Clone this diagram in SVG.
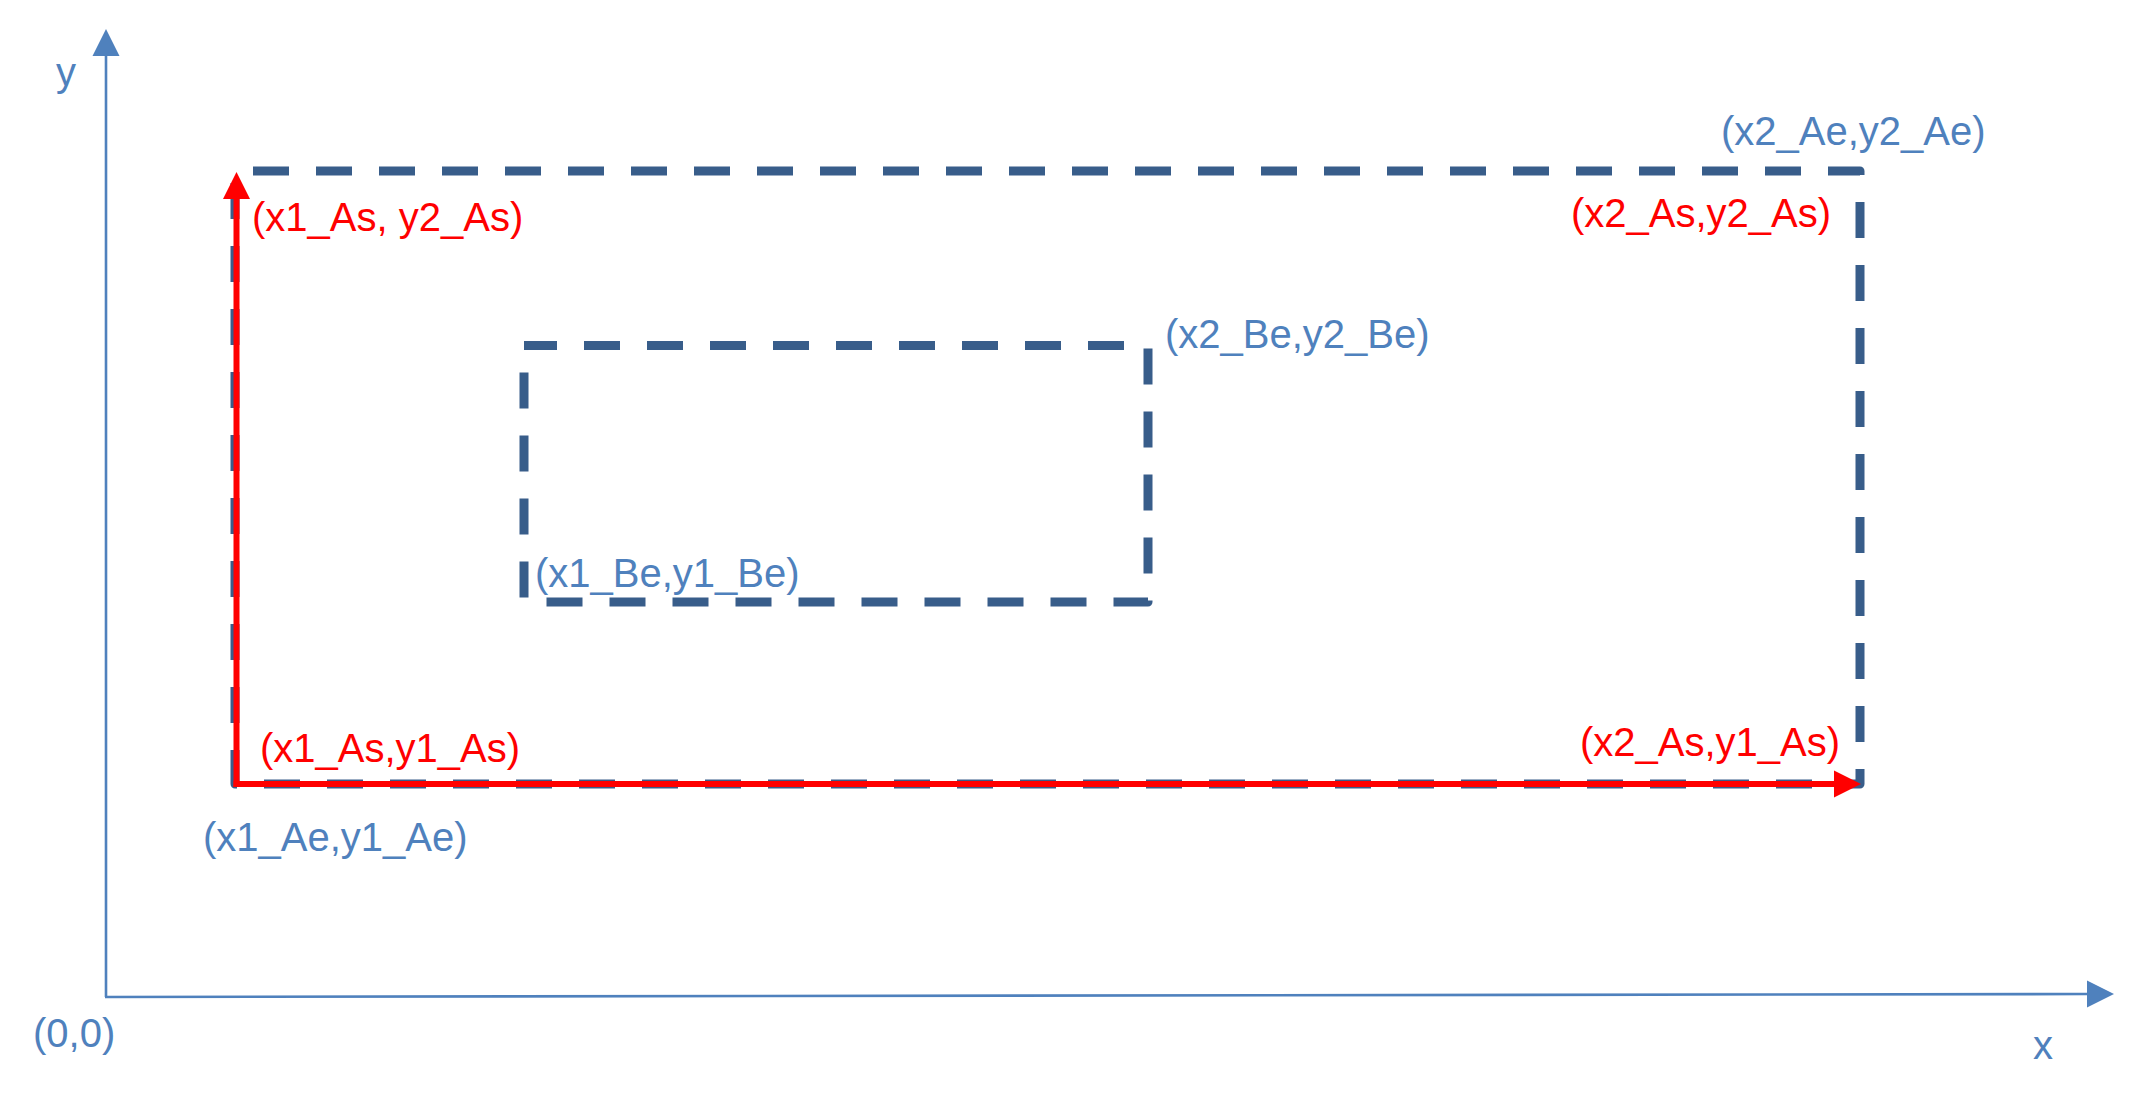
<svg xmlns="http://www.w3.org/2000/svg" width="2143" height="1103" viewBox="0 0 2143 1103">
<style>
.t{font-family:"Liberation Sans",Arial,sans-serif;font-size:40px}
.blue{fill:#4F81BD}
.red{fill:#FF0000}
.rect{fill:none;stroke:#385D8A;stroke-width:9;stroke-dasharray:36 27;stroke-linejoin:round}
.axis{stroke:#4F81BD;stroke-width:2.6;fill:none}
.redline{stroke:#FF0000;stroke-width:6;fill:none;stroke-linecap:square}
</style>
<defs>
<marker id="ab" markerUnits="userSpaceOnUse" markerWidth="28" markerHeight="28" refX="0" refY="13.5" orient="auto" overflow="visible"><path d="M0,0 L27,13.5 L0,27 z" fill="#4F81BD"/></marker>
<marker id="ar" markerUnits="userSpaceOnUse" markerWidth="28" markerHeight="28" refX="0" refY="13.5" orient="auto" overflow="visible"><path d="M0,0 L27,13.5 L0,27 z" fill="#FF0000"/></marker>
</defs>
<g id="rectA">
<path class="rect" d="M235,171 H1860 V784 H235 Z" stroke-dashoffset="45"/>
</g>
<g id="rectB">
<path class="rect" d="M524,345.5 H1148 V602 H524 Z" stroke-dashoffset="3"/>
</g>
<g id="connectors">
<line id="yaxis" class="axis" x1="106" y1="997" x2="106" y2="56" marker-end="url(#ab)"/>
<line id="xaxis" class="axis" x1="105" y1="997" x2="2087" y2="994" marker-end="url(#ab)"/>
<line id="redY" class="redline" x1="236.5" y1="784" x2="236.5" y2="199" marker-end="url(#ar)"/>
<line id="redX" class="redline" x1="236.5" y1="784" x2="1834" y2="784" marker-end="url(#ar)"/>
</g>
<g id="labels">
<text id="lbl-y" class="t blue" x="56" y="86">y</text>
<text id="lbl-x" class="t blue" x="2033" y="1059">x</text>
<text id="lbl-origin" class="t blue" x="33" y="1047">(0,0)</text>
<text id="lbl-x1As-y2As" class="t red" x="252" y="231">(x1_As, y2_As)</text>
<text id="lbl-x2Ae-y2Ae" class="t blue" x="1721" y="145">(x2_Ae,y2_Ae)</text>
<text id="lbl-x2As-y2As" class="t red" x="1571" y="227">(x2_As,y2_As)</text>
<text id="lbl-x2Be-y2Be" class="t blue" x="1165" y="348">(x2_Be,y2_Be)</text>
<text id="lbl-x1Be-y1Be" class="t blue" x="535" y="587">(x1_Be,y1_Be)</text>
<text id="lbl-x1As-y1As" class="t red" x="260" y="762">(x1_As,y1_As)</text>
<text id="lbl-x2As-y1As" class="t red" x="1580" y="756">(x2_As,y1_As)</text>
<text id="lbl-x1Ae-y1Ae" class="t blue" x="203" y="851">(x1_Ae,y1_Ae)</text>
</g>
</svg>
